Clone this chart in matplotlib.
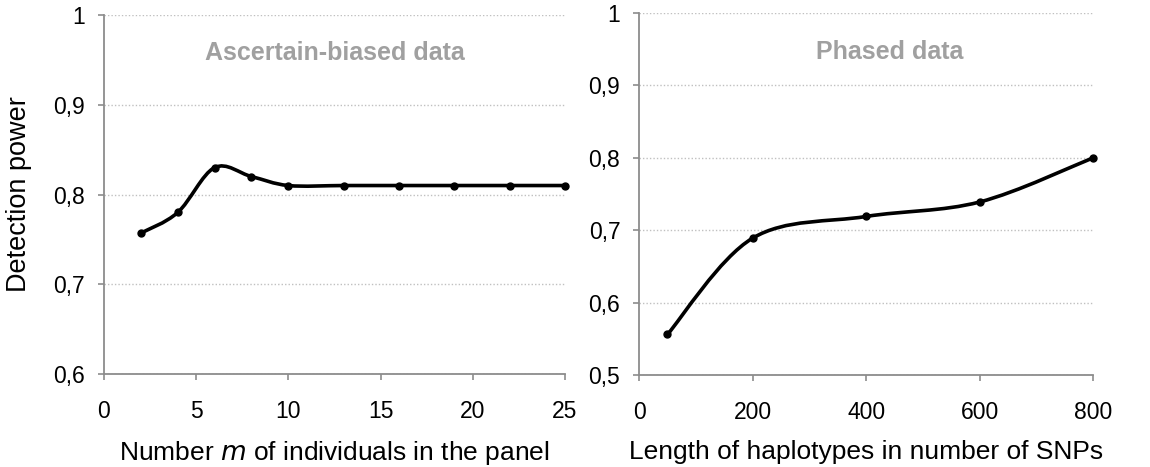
# Detection power curves, two panels (Excel-style smoothed scatter lines)

import numpy as np
import matplotlib
matplotlib.use('Agg')
import matplotlib.pyplot as plt
from matplotlib.path import Path
from matplotlib.patches import PathPatch
from matplotlib.ticker import FuncFormatter

plt.rcParams['font.family'] = ['Liberation Sans', 'DejaVu Sans']

# ===== data =====
panel_m = [2, 4, 6, 8, 10, 13, 16, 19, 22, 25]
power_m = [0.757, 0.78, 0.83, 0.82, 0.81, 0.81, 0.81, 0.81, 0.81, 0.81]

snp_len = [50, 200, 400, 600, 800]
power_snp = [0.556, 0.689, 0.719, 0.739, 0.80]

left_xticks = [0, 5, 10, 15, 20, 25]
left_yticks = [0.6, 0.7, 0.8, 0.9, 1.0]
right_xticks = [0, 200, 400, 600, 800]
right_yticks = [0.5, 0.6, 0.7, 0.8, 0.9, 1.0]

AXIS_GREY = '#8c8c8c'
GRID_GREY = '#c0c0c0'
TITLE_GREY = '#a0a0a0'


def smooth_path(xs, ys):
    # Catmull-Rom style bezier, close to Excel's "smoothed line"
    pts = np.column_stack([xs, ys]).astype(float)
    n = len(pts)
    verts = [pts[0]]
    codes = [Path.MOVETO]
    for i in range(n - 1):
        p0 = pts[i - 1] if i > 0 else pts[i]
        p1 = pts[i]
        p2 = pts[i + 1]
        p3 = pts[i + 2] if i + 2 < n else pts[i + 1]
        c1 = p1 + (p2 - p0) / 6.0
        c2 = p2 - (p3 - p1) / 6.0
        verts += [c1, c2, p2]
        codes += [Path.CURVE4] * 3
    return Path(verts, codes)


def comma_fmt(v, pos):
    return f'{v:g}'.replace('.', ',')


def style_axes(ax, xticks, yticks):
    ax.set_xlim(xticks[0], xticks[-1])
    ax.set_ylim(yticks[0], yticks[-1])
    ax.set_xticks(xticks)
    ax.set_yticks(yticks)
    ax.yaxis.set_major_formatter(FuncFormatter(comma_fmt))
    for s in ['top', 'right']:
        ax.spines[s].set_visible(False)
    for s in ['left', 'bottom']:
        ax.spines[s].set_color(AXIS_GREY)
        ax.spines[s].set_linewidth(1.3)
    ax.tick_params(direction='out', length=4.5, width=1.2, color=AXIS_GREY,
                   labelsize=16.5, labelcolor='black')
    ax.tick_params(axis='x', pad=14)
    ax.tick_params(axis='y', pad=9)
    ax.grid(axis='y', color=GRID_GREY, linestyle=(0, (1, 1.5)), linewidth=1.0)
    ax.set_axisbelow(True)


def draw_series(ax, xs, ys):
    ax.add_patch(PathPatch(smooth_path(xs, ys), facecolor='none',
                           edgecolor='black', linewidth=2.6, zorder=3,
                           capstyle='round', joinstyle='round'))
    ax.plot(xs, ys, 'o', color='black', markersize=5, zorder=4, clip_on=False)


fig = plt.figure(figsize=(11.5, 4.67), dpi=100)

# ---- left panel ----
ax1 = fig.add_axes([0.0904, 0.199, 0.4009, 0.769])
style_axes(ax1, left_xticks, left_yticks)
draw_series(ax1, panel_m, power_m)
ax1.set_xlabel('Number $m$ of individuals in the panel', fontsize=19, labelpad=12)
ax1.set_ylabel('Detection power', fontsize=19.5)
ax1.yaxis.set_label_coords(-0.155, 0.5)
ax1.text(0.5, 0.895, 'Ascertain-biased data', transform=ax1.transAxes,
         ha='center', va='center', fontsize=18, fontweight='bold', color=TITLE_GREY)

# ---- right panel ----
ax2 = fig.add_axes([0.5557, 0.197, 0.3948, 0.775])
style_axes(ax2, right_xticks, right_yticks)
draw_series(ax2, snp_len, power_snp)
ax2.set_xlabel('Length of haplotypes in number of SNPs', fontsize=19, labelpad=12)
ax2.text(0.553, 0.892, 'Phased data', transform=ax2.transAxes,
         ha='center', va='center', fontsize=18, fontweight='bold', color=TITLE_GREY)

fig.savefig('out.png', dpi=100, facecolor='white')
plt.close(fig)
